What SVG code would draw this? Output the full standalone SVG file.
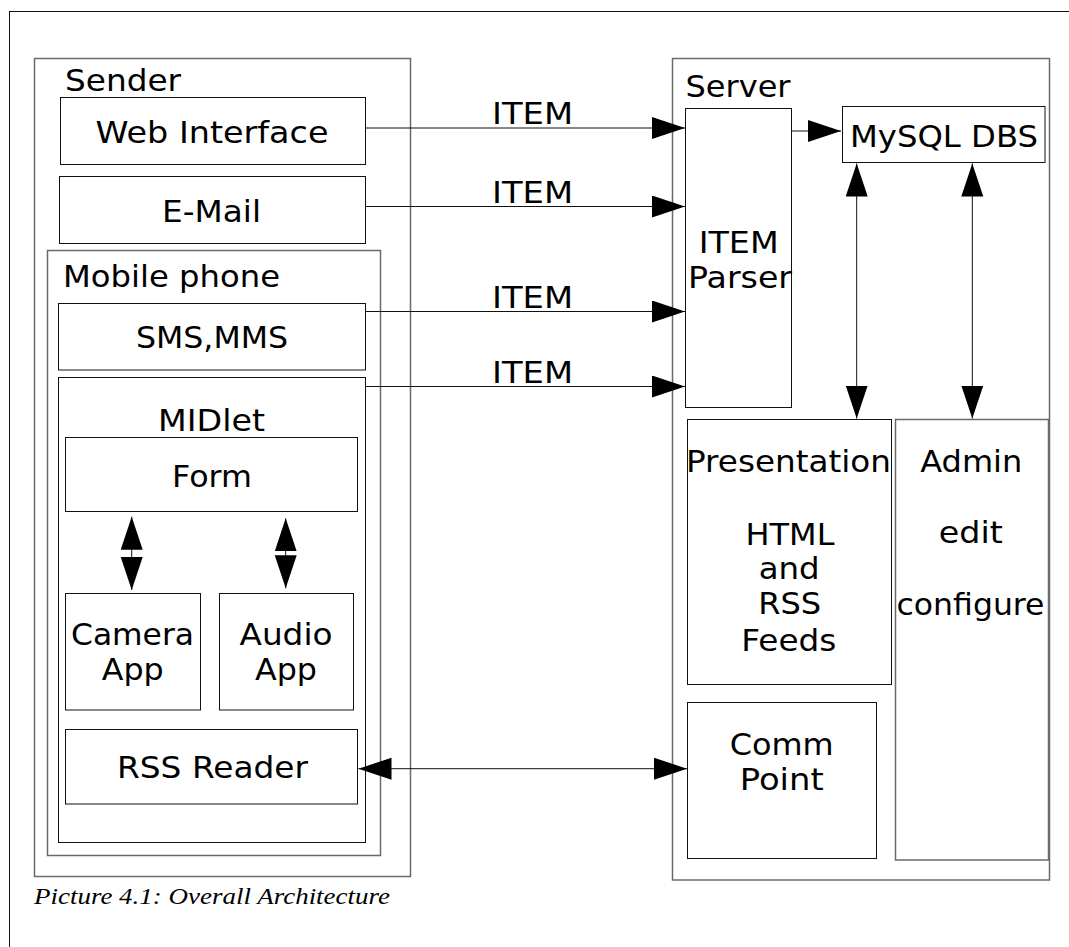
<svg xmlns="http://www.w3.org/2000/svg" width="1069" height="947" viewBox="0 0 1069 947">
  <style>
    .box { fill: none; stroke: #111; stroke-width: 1; }
    .grp { fill: none; stroke: #6a6a6a; stroke-width: 1.5; }
    .lbl { font-family: "DejaVu Sans", Verdana, sans-serif; font-size: 31px; fill: #000; }
    .mid { text-anchor: middle; }
    .cap { font-family: "Liberation Serif", "Times New Roman", serif; font-style: italic; font-size: 23px; fill: #000; }
    .conn { fill: none; stroke: #111; stroke-width: 1; }
  </style>
  <defs>
    <marker id="head" markerUnits="userSpaceOnUse" markerWidth="34" markerHeight="24" refX="33" refY="11" orient="auto-start-reverse">
      <path d="M0,0 L33,11 L0,22 z" fill="#000"/>
    </marker>
  </defs>

  <rect width="1069" height="947" fill="#fff"/>

  <!-- page frame -->
  <rect x="9.5" y="11.5" width="1080" height="960" class="box"/>

  <!-- sending side -->
  <g id="sender">
    <rect x="34.5" y="58.5" width="376" height="818" class="grp"/>
    <text x="65" y="90.7" class="lbl" textLength="116" lengthAdjust="spacingAndGlyphs">Sender</text>
  </g>
  <g id="web-interface">
    <rect x="60.5" y="97.5" width="305" height="67" class="box"/>
    <text x="212" y="143.3" class="lbl mid" textLength="233" lengthAdjust="spacingAndGlyphs">Web Interface</text>
  </g>
  <g id="email">
    <rect x="59.5" y="176.5" width="306" height="67" class="box"/>
    <text x="211.5" y="221.7" class="lbl mid" textLength="99" lengthAdjust="spacingAndGlyphs">E-Mail</text>
  </g>
  <g id="mobile-phone">
    <rect x="47.5" y="250.5" width="333" height="605" class="grp"/>
    <text x="63" y="286.7" class="lbl" textLength="217" lengthAdjust="spacingAndGlyphs">Mobile phone</text>
  </g>
  <g id="sms-mms">
    <rect x="58.5" y="303.5" width="307" height="66.5" class="box"/>
    <text x="212" y="348.3" class="lbl mid" textLength="152" lengthAdjust="spacingAndGlyphs">SMS,MMS</text>
  </g>
  <g id="midlet">
    <rect x="58.5" y="377.5" width="307" height="465" class="box"/>
    <text x="211.5" y="431" class="lbl mid" textLength="107" lengthAdjust="spacingAndGlyphs">MIDlet</text>
  </g>
  <g id="form">
    <rect x="65.5" y="437.5" width="292" height="74" class="box"/>
    <text x="212" y="486.7" class="lbl mid" textLength="80" lengthAdjust="spacingAndGlyphs">Form</text>
  </g>
  <g id="camera-app">
    <rect x="65.5" y="593.5" width="135" height="116.5" class="box"/>
    <text x="132.5" y="645" class="lbl mid" textLength="123" lengthAdjust="spacingAndGlyphs">Camera</text>
    <text x="132.7" y="680" class="lbl mid" textLength="62" lengthAdjust="spacingAndGlyphs">App</text>
  </g>
  <g id="audio-app">
    <rect x="219.5" y="593.5" width="134" height="116.5" class="box"/>
    <text x="286" y="645" class="lbl mid" textLength="93" lengthAdjust="spacingAndGlyphs">Audio</text>
    <text x="286" y="680" class="lbl mid" textLength="62" lengthAdjust="spacingAndGlyphs">App</text>
  </g>
  <g id="rss-reader">
    <rect x="65.5" y="729.5" width="292" height="74.5" class="box"/>
    <text x="212.5" y="778.3" class="lbl mid" textLength="191" lengthAdjust="spacingAndGlyphs">RSS Reader</text>
  </g>

  <!-- server side -->
  <g id="server">
    <rect x="672.5" y="58.5" width="377" height="821.5" class="grp"/>
    <text x="685.5" y="96.7" class="lbl" textLength="105" lengthAdjust="spacingAndGlyphs">Server</text>
  </g>
  <g id="item-parser">
    <rect x="685.5" y="108.5" width="106" height="299" class="box"/>
    <text x="738.7" y="252.7" class="lbl mid" textLength="80" lengthAdjust="spacingAndGlyphs">ITEM</text>
    <text x="740" y="287.7" class="lbl mid" textLength="104" lengthAdjust="spacingAndGlyphs">Parser</text>
  </g>
  <g id="mysql-dbs">
    <rect x="842.5" y="106.5" width="202.5" height="56" class="box"/>
    <text x="944" y="146.7" class="lbl mid" textLength="188" lengthAdjust="spacingAndGlyphs">MySQL DBS</text>
  </g>
  <g id="presentation">
    <rect x="687.5" y="419.5" width="204" height="265" class="box"/>
    <text x="788.5" y="471.7" class="lbl mid" textLength="205" lengthAdjust="spacingAndGlyphs">Presentation</text>
    <text x="790" y="545" class="lbl mid" textLength="89" lengthAdjust="spacingAndGlyphs">HTML</text>
    <text x="789.2" y="579" class="lbl mid" textLength="61" lengthAdjust="spacingAndGlyphs">and</text>
    <text x="789.7" y="614" class="lbl mid" textLength="63" lengthAdjust="spacingAndGlyphs">RSS</text>
    <text x="788.8" y="650.7" class="lbl mid" textLength="95" lengthAdjust="spacingAndGlyphs">Feeds</text>
  </g>
  <g id="admin">
    <rect x="895.5" y="419.5" width="153" height="440.5" class="grp"/>
    <text x="971.3" y="471.7" class="lbl mid" textLength="102" lengthAdjust="spacingAndGlyphs">Admin</text>
    <text x="970.8" y="543.3" class="lbl mid" textLength="64" lengthAdjust="spacingAndGlyphs">edit</text>
    <text x="970.5" y="615" class="lbl mid" textLength="148" lengthAdjust="spacingAndGlyphs">configure</text>
  </g>
  <g id="comm-point">
    <rect x="687.5" y="702.5" width="189" height="156" class="box"/>
    <text x="781.7" y="755" class="lbl mid" textLength="104" lengthAdjust="spacingAndGlyphs">Comm</text>
    <text x="781.7" y="790" class="lbl mid" textLength="84" lengthAdjust="spacingAndGlyphs">Point</text>
  </g>

  <!-- connectors -->
  <g id="connectors">
    <line x1="366" y1="128" x2="685" y2="128" class="conn" marker-end="url(#head)"/>
    <line x1="366" y1="206.5" x2="685" y2="206.5" class="conn" marker-end="url(#head)"/>
    <line x1="366" y1="311.5" x2="685" y2="311.5" class="conn" marker-end="url(#head)"/>
    <line x1="366" y1="386.5" x2="685" y2="386.5" class="conn" marker-end="url(#head)"/>
    <text x="532.5" y="124.3" class="lbl mid" textLength="81" lengthAdjust="spacingAndGlyphs">ITEM</text>
    <text x="532.5" y="202.7" class="lbl mid" textLength="81" lengthAdjust="spacingAndGlyphs">ITEM</text>
    <text x="532.5" y="308.3" class="lbl mid" textLength="81" lengthAdjust="spacingAndGlyphs">ITEM</text>
    <text x="532.5" y="382.7" class="lbl mid" textLength="81" lengthAdjust="spacingAndGlyphs">ITEM</text>

    <line x1="792" y1="131" x2="841" y2="131" class="conn" marker-end="url(#head)"/>
    <line x1="856.7" y1="163.5" x2="856.7" y2="418.5" class="conn" marker-start="url(#head)" marker-end="url(#head)"/>
    <line x1="972.3" y1="163.5" x2="972.3" y2="418.5" class="conn" marker-start="url(#head)" marker-end="url(#head)"/>

    <line x1="131.7" y1="516.7" x2="131.7" y2="590" class="conn" marker-start="url(#head)" marker-end="url(#head)"/>
    <line x1="285.7" y1="518.3" x2="285.7" y2="588.3" class="conn" marker-start="url(#head)" marker-end="url(#head)"/>

    <line x1="358.5" y1="768.7" x2="687" y2="768.7" class="conn" marker-start="url(#head)" marker-end="url(#head)"/>
  </g>

  <text x="34" y="903.5" class="cap" textLength="356" lengthAdjust="spacingAndGlyphs">Picture 4.1: Overall Architecture</text>
</svg>
